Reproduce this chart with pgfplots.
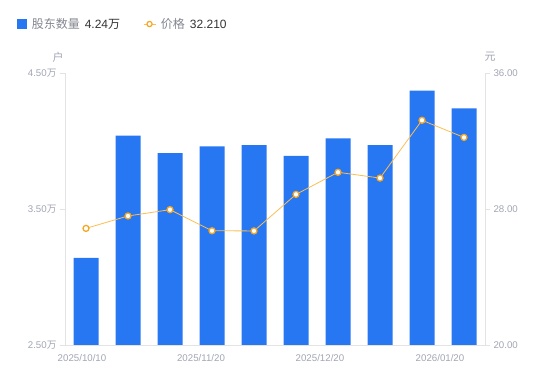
\documentclass[border=0pt]{standalone}
\usepackage{pgfplots}
\pgfplotsset{compat=1.18}
\usepackage{fontspec}
\setmainfont{Liberation Sans}
\newfontfamily\cjk{Noto Sans CJK SC}
\definecolor{barblue}{HTML}{2777F2}
\definecolor{lineorange}{HTML}{FBBE52}
\definecolor{markorange}{HTML}{F5A623}
\definecolor{ticktext}{HTML}{A2A5B3}
\definecolor{axisgray}{HTML}{E3E3E3}
\definecolor{legname}{HTML}{83868F}
\definecolor{legval}{HTML}{333333}
\begin{document}
\begin{tikzpicture}[x=1pt,y=1pt]
\path[use as bounding box] (0,0) rectangle (550,381);
\begin{axis}[
 at={(65pt,36pt)}, anchor=south west, scale only axis,
 width=420pt, height=272pt,
 xmin=-0.5, xmax=9.5, ymin=2.5, ymax=4.5,
 axis x line*=bottom, axis y line*=left,
 axis line style={-, axisgray, line width=0.8pt},
 xtick={-0.095,2.738,5.571,8.429},
 xticklabels={2025/10/10,2025/11/20,2025/12/20,2026/01/20},
 x tick style={draw=none},
 ytick={2.5,3.5,4.5},
 yticklabels={2.50{\cjk 万},3.50{\cjk 万},4.50{\cjk 万}},
 y tick style={axisgray, line width=0.8pt},
 tick align=outside, major tick length=5pt,
 tick label style={font=\fontsize{9.7}{11}\selectfont, text=ticktext},
 xticklabel style={yshift=-1pt},
]
\addplot[ybar, bar width=25pt, fill=barblue, draw=none] coordinates {
 (0,3.14) (1,4.04) (2,3.91) (3,3.96) (4,3.97) (5,3.89) (6,4.02) (7,3.97) (8,4.37) (9,4.24)};
\end{axis}
\begin{axis}[
 at={(65pt,36pt)}, anchor=south west, scale only axis,
 width=420pt, height=272pt,
 xmin=-0.5, xmax=9.5, ymin=20, ymax=36,
 axis x line=none, axis y line*=right,
 axis line style={-, axisgray, line width=0.8pt},
 ytick={20,28,36},
 yticklabels={20.00,28.00,36.00},
 y tick style={axisgray, line width=0.8pt},
 tick align=outside, major tick length=5pt,
 tick label style={font=\fontsize{9.7}{11}\selectfont, text=ticktext},
 legend style={at={(-0.121,1.18)}, anchor=west, draw=none, fill=none,
   legend columns=2, font=\fontsize{12}{14}\selectfont,
   /tikz/every odd column/.append style={column sep=3pt},
   /tikz/every even column/.append style={column sep=21pt}},
 legend cell align=left,
]
\addlegendimage{legend image code/.code={\fill[barblue] (0pt,-4.5pt) rectangle (9pt,4.5pt);}}
\addlegendentry{{\cjk\color{legname}股东数量}\hspace{5pt}{\color{legval}4.24{\cjk 万}}}
\addplot[lineorange, line width=0.8pt, mark=*, mark size=3pt,
  mark options={draw=markorange, fill=white, line width=1.3pt},
  legend image code/.code={\draw[lineorange, line width=0.8pt] (0pt,0pt)--(12pt,0pt); \draw[markorange, fill=white, line width=1.2pt] (6pt,0pt) circle (2.6pt);}]
 coordinates {
 (0,26.86) (1,27.59) (2,27.96) (3,26.72) (4,26.71) (5,28.86) (6,30.16) (7,29.82) (8,33.22) (9,32.21)};
\addlegendentry{{\cjk\color{legname}价格}\hspace{5pt}{\color{legval}32.210}}
\end{axis}
\node[font=\cjk\fontsize{11}{13}\selectfont, text=ticktext] at (58,324) {户};
\node[font=\cjk\fontsize{11}{13}\selectfont, text=ticktext] at (490,324) {元};
\end{tikzpicture}
\end{document}
